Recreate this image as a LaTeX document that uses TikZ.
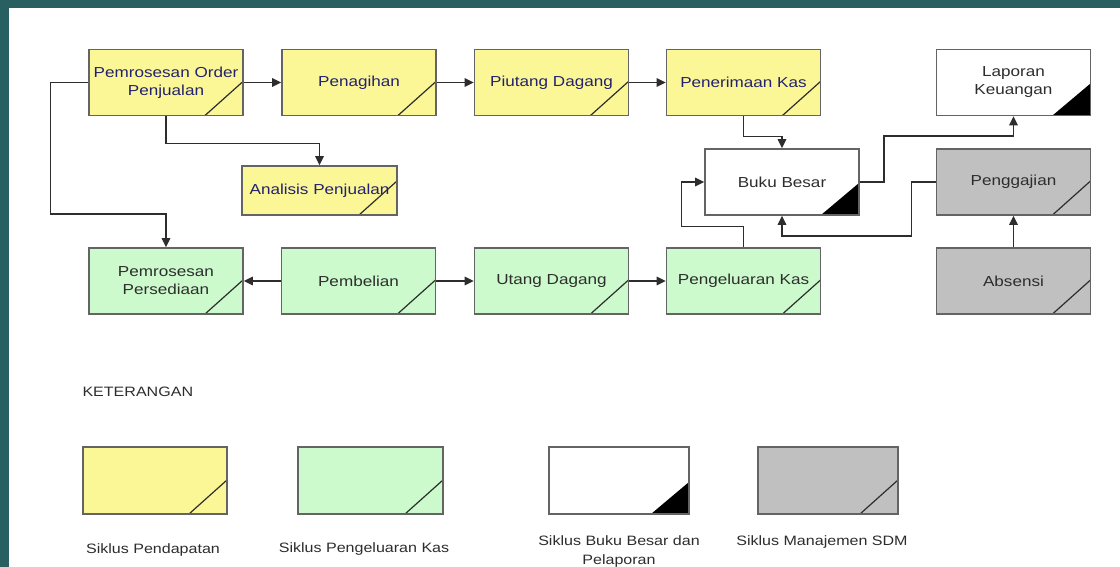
\documentclass[tikz,border=0pt]{standalone}
\usepackage{fontspec}
\setmainfont{Liberation Sans}[FakeStretch=1.18]
\usetikzlibrary{arrows.meta}

\definecolor{frameteal}{RGB}{40,95,96}
\definecolor{revfill}{RGB}{252,247,150}
\definecolor{expfill}{RGB}{204,250,204}
\definecolor{hrfill}{RGB}{192,192,192}
\definecolor{boxline}{RGB}{100,100,100}
\definecolor{wireline}{RGB}{45,45,45}
\definecolor{navytext}{RGB}{34,34,110}
\definecolor{darktext}{RGB}{45,45,45}

\tikzset{
  proc/.style={draw=boxline, line width=1.6pt, minimum width=154pt,
    minimum height=66pt, inner sep=0pt, align=center,
    font=\fontsize{14.5}{18}\selectfont},
  slash/.style={path picture={
      \draw[wireline, line width=1.2pt]
        ([xshift=-38pt]path picture bounding box.south east) -- ++(38pt,34pt);}},
  corner/.style={path picture={
      \fill[black]
        ([xshift=-38pt]path picture bounding box.south east) -- ++(38pt,32pt)
        -- (path picture bounding box.south east) -- cycle;}},
  revbox/.style={proc, slash, fill=revfill, text=navytext},
  expbox/.style={proc, slash, fill=expfill, text=darktext},
  glbox/.style={proc, corner, fill=white, text=darktext},
  hrbox/.style={proc, slash, fill=hrfill, text=darktext},
  wire/.style={draw=wireline, line width=1.4pt,
    -{Triangle[length=9pt,width=8.5pt]}},
  caption/.style={text=darktext, align=center,
    font=\fontsize{13.6}{19}\selectfont}
}

\begin{document}
\begin{tikzpicture}[x=1pt,y=-1pt]
  % frame
  \fill[frameteal] (0,0) rectangle (1120,567);
  \fill[white] (9,8) rectangle (1120,567);
  \useasboundingbox (0,0) rectangle (1120,567);

  % revenue cycle
  \node[revbox] (por)  at (166,82.5)   {Pemrosesan Order\\Penjualan};
  \node[revbox] (pen)  at (359,82.5)   {Penagihan};
  \node[revbox] (piu)  at (551.5,82.5) {Piutang Dagang};
  \node[revbox] (pkas) at (743.5,82.5) {Penerimaan Kas};
  \node[revbox, minimum width=155pt, minimum height=49pt] (ana) at (319.5,190.5) {Analisis Penjualan};

  % general ledger and reporting
  \node[glbox] (lap) at (1013.5,82.5) {Laporan\\Keuangan};
  \node[glbox] (bb)  at (782,182)     {Buku Besar};

  % human resources
  \node[hrbox] (pgj) at (1013.5,182) {Penggajian};
  \node[hrbox] (abs) at (1013.5,281) {Absensi};

  % expenditure cycle
  \node[expbox] (pps)  at (166,281)   {Pemrosesan\\Persediaan};
  \node[expbox] (pbl)  at (358.5,281) {Pembelian};
  \node[expbox] (utd)  at (551.5,281) {Utang Dagang};
  \node[expbox] (pkel) at (743.5,281) {Pengeluaran Kas};

  % flows
  \draw[wire] (por.east) -- (pen.west);
  \draw[wire] (pen.east) -- (piu.west);
  \draw[wire] (piu.east) -- (pkas.west);
  \draw[wire] (por.west) -- ++(-38,0) -- ++(0,131.5) -| (pps.north);
  \draw[wire] (por.south) -- ++(0,27) -| (ana.north);
  \draw[wire] (pkas.south) -- ++(0,20) -| (bb.north);
  \draw[wire] (pkel.north) -- ++(0,-21) -- ++(-62,0) |- (bb.west);
  \draw[wire] (bb.east) -- ++(24,0) -- ++(0,-46) -| (lap.south);
  \draw[wire] (pgj.west) -- ++(-24,0) -- ++(0,54) -| (bb.south);
  \draw[wire] (abs.north) -- (pgj.south);
  \draw[wire] (pbl.west) -- (pps.east);
  \draw[wire] (pbl.east) -- (utd.west);
  \draw[wire] (utd.east) -- (pkel.west);

  % legend
  \node[caption, anchor=west] (ket) at (79,392) {KETERANGAN};
  \node[revbox, minimum width=144pt, minimum height=67pt] (lg1) at (155,480.5) {};
  \node[expbox, minimum width=145pt, minimum height=67pt] (lg2) at (370.5,480.5) {};
  \node[glbox,  minimum width=140pt, minimum height=67pt] (lg3) at (619,480.5) {};
  \node[hrbox,  minimum width=140pt, minimum height=67pt] (lg4) at (828,480.5) {};
  \node[caption] (lt1) at (153,550) {Siklus Pendapatan};
  \node[caption] (lt2) at (364,549) {Siklus Pengeluaran Kas};
  \node[caption] (lt3) at (619,551.5) {Siklus Buku Besar dan\\Pelaporan};
  \node[caption] (lt4) at (822,542) {Siklus Manajemen SDM};
\end{tikzpicture}
\end{document}
